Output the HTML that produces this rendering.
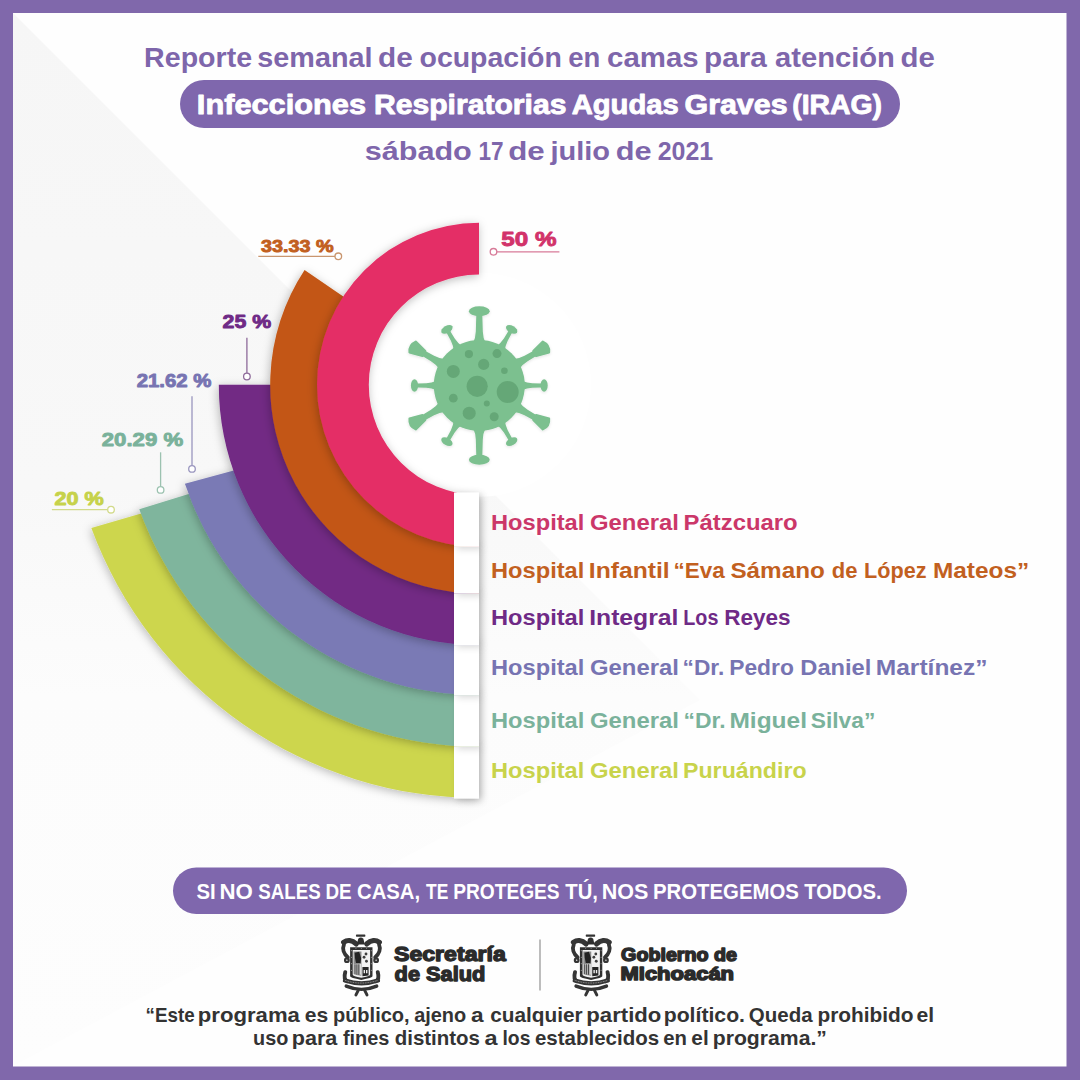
<!DOCTYPE html>
<html><head><meta charset="utf-8"><style>
html,body{margin:0;padding:0;width:1080px;height:1080px;overflow:hidden;background:#8068AB;}
svg{display:block;font-family:"Liberation Sans",sans-serif;}
</style></head><body>
<svg width="1080" height="1080" viewBox="0 0 1080 1080">
<defs>
<filter id="sh" x="-20%" y="-20%" width="140%" height="140%">
  <feGaussianBlur in="SourceAlpha" stdDeviation="5"/>
  <feOffset dx="-1" dy="1.5" result="b"/>
  <feFlood flood-color="#000" flood-opacity="0.27"/>
  <feComposite in2="b" operator="in"/>
  <feMerge><feMergeNode/><feMergeNode in="SourceGraphic"/></feMerge>
</filter>
<filter id="tsh" x="-80%" y="-50%" width="260%" height="200%">
  <feGaussianBlur in="SourceAlpha" stdDeviation="3.5"/>
  <feOffset dx="2.5" dy="2" result="b"/>
  <feFlood flood-color="#000" flood-opacity="0.16"/>
  <feComposite in2="b" operator="in"/>
  <feMerge><feMergeNode/><feMergeNode in="SourceGraphic"/></feMerge>
</filter>
<filter id="vsh" x="-20%" y="-20%" width="140%" height="140%">
  <feGaussianBlur in="SourceAlpha" stdDeviation="1.5"/>
  <feOffset dx="0" dy="1" result="b"/>
  <feFlood flood-color="#000" flood-opacity="0.12"/>
  <feComposite in2="b" operator="in"/>
  <feMerge><feMergeNode/><feMergeNode in="SourceGraphic"/></feMerge>
</filter>
<linearGradient id="bg" x1="0" y1="0" x2="1" y2="1">
  <stop offset="0" stop-color="#FFFFFF"/><stop offset="1" stop-color="#FDFDFD"/>
</linearGradient>
</defs>
<rect x="0" y="0" width="1080" height="1080" fill="#8068AB"/>
<rect x="13" y="13" width="1053.5" height="1053.5" fill="#FEFEFE"/>
<linearGradient id="tri" gradientUnits="userSpaceOnUse" x1="0" y1="13" x2="0" y2="1066"><stop offset="0" stop-color="#F6F6F6"/><stop offset="0.45" stop-color="#F8F8F8"/><stop offset="0.65" stop-color="#FCFCFC"/><stop offset="1" stop-color="#FDFDFD"/></linearGradient>
<path d="M13,13 L700,700 L13,1066 Z" fill="url(#tri)"/>
<rect x="180" y="80" width="720" height="48" rx="24" fill="#7F67AD"/>
<rect x="173" y="867.5" width="734" height="46.5" rx="23.25" fill="#7F67AD"/>
<circle cx="479.0" cy="384.8" r="112" fill="#FFFFFF"/>
<path d="M479.00,798.10 A413.3,413.3 0 0 1 91.34,528.12 L144.53,512.44 A358,358 0 0 0 479.00,742.80 Z" fill="#CDD64E" filter="url(#sh)"/>
<path d="M479.00,746.60 A361.8,361.8 0 0 1 139.25,509.17 L192.66,492.72 A306,306 0 0 0 479.00,690.80 Z" fill="#7FB59D" filter="url(#sh)"/>
<path d="M479.00,695.10 A310.3,310.3 0 0 1 184.90,483.74 L238.38,469.22 A255,255 0 0 0 479.00,639.80 Z" fill="#7A7AB5" filter="url(#sh)"/>
<path d="M479.00,645.00 A260.2,260.2 0 0 1 218.80,384.80 L274.00,384.80 A205,205 0 0 0 479.00,589.80 Z" fill="#722984" filter="url(#sh)"/>
<path d="M479.00,593.60 A208.8,208.8 0 0 1 304.57,270.03 L346.56,298.63 A158,158 0 0 0 479.00,542.80 Z" fill="#C35715" filter="url(#sh)"/>
<path d="M479.00,546.80 A162.0,162.0 0 0 1 479.00,222.80 L479.00,274.60 A110.2,110.2 0 0 0 479.00,495.00 Z" fill="#E42F66" filter="url(#sh)"/>
<rect x="454" y="746.7" width="25" height="51.9" fill="#fff" filter="url(#tsh)"/>
<rect x="454" y="695.2" width="25" height="51.5" fill="#fff" filter="url(#tsh)"/>
<rect x="454" y="645.1" width="25" height="50.1" fill="#fff" filter="url(#tsh)"/>
<rect x="454" y="593.7" width="25" height="51.4" fill="#fff" filter="url(#tsh)"/>
<rect x="454" y="546.9" width="25" height="46.8" fill="#fff" filter="url(#tsh)"/>
<rect x="454" y="492.5" width="25" height="54.4" fill="#fff" filter="url(#tsh)"/>
<g fill="#7CC08F" filter="url(#vsh)">
<circle cx="479.3" cy="385.5" r="45.5"/>
<g transform="translate(479.3,385.5) rotate(0)"><path d="M-6.5,-42 Q-3.6,-48 -3.5,-54 L-3.0,-71 L3.0,-71 L3.5,-54 Q3.6,-48 6.5,-42 Z"/><ellipse cx="0" cy="-74.3" rx="10.4" ry="5"/></g>
<g transform="translate(479.3,385.5) rotate(30)"><path d="M-5,-42 Q-2.4,-48 -2.2,-53 L-2,-62 L2,-62 L2.2,-53 Q2.4,-48 5,-42 Z"/><ellipse cx="0" cy="-64.8" rx="6.2" ry="3.6"/></g>
<g transform="translate(479.3,385.5) rotate(60)"><path d="M-6,-42 Q-3.2,-48 -3.1,-54 L-2.8,-66 L2.8,-66 L3.1,-54 Q3.2,-48 6,-42 Z"/><path d="M-2.8,-64 L-6.2,-77 Q0,-81.5 6.2,-77 L2.8,-64 Z" stroke="#7CC08F" stroke-width="2.2" stroke-linejoin="round"/></g>
<g transform="translate(479.3,385.5) rotate(90)"><path d="M-5,-42 Q-2.4,-48 -2.2,-53 L-2,-62 L2,-62 L2.2,-53 Q2.4,-48 5,-42 Z"/><ellipse cx="0" cy="-64.8" rx="6.2" ry="3.6"/></g>
<g transform="translate(479.3,385.5) rotate(120)"><path d="M-6,-42 Q-3.2,-48 -3.1,-54 L-2.8,-66 L2.8,-66 L3.1,-54 Q3.2,-48 6,-42 Z"/><path d="M-2.8,-64 L-6.2,-77 Q0,-81.5 6.2,-77 L2.8,-64 Z" stroke="#7CC08F" stroke-width="2.2" stroke-linejoin="round"/></g>
<g transform="translate(479.3,385.5) rotate(150)"><path d="M-5,-42 Q-2.4,-48 -2.2,-53 L-2,-62 L2,-62 L2.2,-53 Q2.4,-48 5,-42 Z"/><ellipse cx="0" cy="-64.8" rx="6.2" ry="3.6"/></g>
<g transform="translate(479.3,385.5) rotate(180)"><path d="M-6.5,-42 Q-3.6,-48 -3.5,-54 L-3.0,-71 L3.0,-71 L3.5,-54 Q3.6,-48 6.5,-42 Z"/><ellipse cx="0" cy="-74.3" rx="10.4" ry="5"/></g>
<g transform="translate(479.3,385.5) rotate(210)"><path d="M-5,-42 Q-2.4,-48 -2.2,-53 L-2,-62 L2,-62 L2.2,-53 Q2.4,-48 5,-42 Z"/><ellipse cx="0" cy="-64.8" rx="6.2" ry="3.6"/></g>
<g transform="translate(479.3,385.5) rotate(240)"><path d="M-6,-42 Q-3.2,-48 -3.1,-54 L-2.8,-66 L2.8,-66 L3.1,-54 Q3.2,-48 6,-42 Z"/><path d="M-2.8,-64 L-6.2,-77 Q0,-81.5 6.2,-77 L2.8,-64 Z" stroke="#7CC08F" stroke-width="2.2" stroke-linejoin="round"/></g>
<g transform="translate(479.3,385.5) rotate(270)"><path d="M-5,-42 Q-2.4,-48 -2.2,-53 L-2,-62 L2,-62 L2.2,-53 Q2.4,-48 5,-42 Z"/><ellipse cx="0" cy="-64.8" rx="6.2" ry="3.6"/></g>
<g transform="translate(479.3,385.5) rotate(300)"><path d="M-6,-42 Q-3.2,-48 -3.1,-54 L-2.8,-66 L2.8,-66 L3.1,-54 Q3.2,-48 6,-42 Z"/><path d="M-2.8,-64 L-6.2,-77 Q0,-81.5 6.2,-77 L2.8,-64 Z" stroke="#7CC08F" stroke-width="2.2" stroke-linejoin="round"/></g>
<g transform="translate(479.3,385.5) rotate(330)"><path d="M-5,-42 Q-2.4,-48 -2.2,-53 L-2,-62 L2,-62 L2.2,-53 Q2.4,-48 5,-42 Z"/><ellipse cx="0" cy="-64.8" rx="6.2" ry="3.6"/></g>
<circle cx="477.2" cy="386.3" r="10.6" fill="#65A777"/>
<circle cx="507.7" cy="392" r="11" fill="#65A777"/>
<circle cx="453.3" cy="371.4" r="6.5" fill="#65A777"/>
<circle cx="483.7" cy="364.4" r="5.6" fill="#65A777"/>
<circle cx="468.9" cy="354.1" r="4.1" fill="#65A777"/>
<circle cx="497" cy="353.6" r="4.5" fill="#65A777"/>
<circle cx="504.4" cy="370.8" r="3.3" fill="#65A777"/>
<circle cx="453.3" cy="398.2" r="4.4" fill="#65A777"/>
<circle cx="486.8" cy="403.5" r="3" fill="#65A777"/>
<circle cx="469.2" cy="413.2" r="6.5" fill="#65A777"/>
<circle cx="494.2" cy="416.7" r="4.5" fill="#65A777"/>
</g>

<g fill="none" stroke-width="1.3">
 <line x1="496.8" y1="251.8" x2="559.4" y2="251.8" stroke="#D77A98"/><circle cx="493.5" cy="251.8" r="3.3" stroke="#D77A98" fill="#fff"/>
 <line x1="258.3" y1="256.3" x2="335" y2="256.3" stroke="#C9966F"/><circle cx="338.3" cy="256.3" r="3.3" stroke="#C9966F" fill="#fff"/>
 <line x1="246.9" y1="337.7" x2="246.9" y2="373.2" stroke="#8E6A9A"/><circle cx="246.9" cy="376.5" r="3.3" stroke="#8E6A9A" fill="#fff"/>
 <line x1="192" y1="396.3" x2="192" y2="465.6" stroke="#9995BE"/><circle cx="192" cy="468.9" r="3.3" stroke="#9995BE" fill="#fff"/>
 <line x1="160.6" y1="452.3" x2="160.6" y2="486.6" stroke="#9CC2B0"/><circle cx="160.6" cy="489.9" r="3.3" stroke="#9CC2B0" fill="#fff"/>
 <line x1="51.9" y1="509.7" x2="107.7" y2="509.7" stroke="#D2DA8A"/><circle cx="111" cy="509.7" r="3.3" stroke="#D2DA8A" fill="#fff"/>
</g>
<text x="144.12" y="67" font-size="27.2" fill="#7E66AB" font-weight="bold" textLength="107.95" lengthAdjust="spacingAndGlyphs" id="t1_0">Reporte</text>
<text x="257.37" y="67" font-size="27.2" fill="#7E66AB" font-weight="bold" textLength="115.18" lengthAdjust="spacingAndGlyphs" id="t1_1">semanal</text>
<text x="378.09" y="67" font-size="27.2" fill="#7E66AB" font-weight="bold" textLength="34.78" lengthAdjust="spacingAndGlyphs" id="t1_2">de</text>
<text x="419.51" y="67" font-size="27.2" fill="#7E66AB" font-weight="bold" textLength="142.3" lengthAdjust="spacingAndGlyphs" id="t1_3">ocupación</text>
<text x="568.27" y="67" font-size="27.2" fill="#7E66AB" font-weight="bold" textLength="32.05" lengthAdjust="spacingAndGlyphs" id="t1_4">en</text>
<text x="607.14" y="67" font-size="27.2" fill="#7E66AB" font-weight="bold" textLength="91.56" lengthAdjust="spacingAndGlyphs" id="t1_5">camas</text>
<text x="704.05" y="67" font-size="27.2" fill="#7E66AB" font-weight="bold" textLength="62.87" lengthAdjust="spacingAndGlyphs" id="t1_6">para</text>
<text x="774.97" y="67" font-size="27.2" fill="#7E66AB" font-weight="bold" textLength="119.94" lengthAdjust="spacingAndGlyphs" id="t1_7">atención</text>
<text x="900.5" y="67" font-size="27.2" fill="#7E66AB" font-weight="bold" textLength="34.29" lengthAdjust="spacingAndGlyphs" id="t1_8">de</text>
<text x="196.85" y="113.6" font-size="28.2" fill="#fff" font-weight="bold" textLength="169.19" lengthAdjust="spacingAndGlyphs" id="t2_0" stroke="#fff" stroke-width="0.9" stroke-linejoin="round">Infecciones</text>
<text x="373.99" y="113.6" font-size="28.2" fill="#fff" font-weight="bold" textLength="192.42" lengthAdjust="spacingAndGlyphs" id="t2_1" stroke="#fff" stroke-width="0.9" stroke-linejoin="round">Respiratorias</text>
<text x="571.65" y="113.6" font-size="28.2" fill="#fff" font-weight="bold" textLength="107.16" lengthAdjust="spacingAndGlyphs" id="t2_2" stroke="#fff" stroke-width="0.9" stroke-linejoin="round">Agudas</text>
<text x="684.52" y="113.6" font-size="28.2" fill="#fff" font-weight="bold" textLength="103.01" lengthAdjust="spacingAndGlyphs" id="t2_3" stroke="#fff" stroke-width="0.9" stroke-linejoin="round">Graves</text>
<text x="792.21" y="113.6" font-size="28.2" fill="#fff" font-weight="bold" textLength="89.83" lengthAdjust="spacingAndGlyphs" id="t2_4" stroke="#fff" stroke-width="0.9" stroke-linejoin="round">(IRAG)</text>
<text x="364.65" y="160" font-size="26.5" fill="#7E66AB" font-weight="bold" textLength="107.17" lengthAdjust="spacingAndGlyphs" id="t3_0">sábado</text>
<text x="478.39" y="160" font-size="26.5" fill="#7E66AB" font-weight="bold" textLength="25.06" lengthAdjust="spacingAndGlyphs" id="t3_1">17</text>
<text x="508.25" y="160" font-size="26.5" fill="#7E66AB" font-weight="bold" textLength="36.51" lengthAdjust="spacingAndGlyphs" id="t3_2">de</text>
<text x="550.43" y="160" font-size="26.5" fill="#7E66AB" font-weight="bold" textLength="59.62" lengthAdjust="spacingAndGlyphs" id="t3_3">julio</text>
<text x="615.85" y="160" font-size="26.5" fill="#7E66AB" font-weight="bold" textLength="35.82" lengthAdjust="spacingAndGlyphs" id="t3_4">de</text>
<text x="657.69" y="160" font-size="26.5" fill="#7E66AB" font-weight="bold" textLength="55.48" lengthAdjust="spacingAndGlyphs" id="t3_5">2021</text>
<text x="491.02" y="529.8" font-size="22.4" fill="#CB3769" font-weight="bold" textLength="93.28" lengthAdjust="spacingAndGlyphs" id="L1_0">Hospital</text>
<text x="589.96" y="529.8" font-size="22.4" fill="#CB3769" font-weight="bold" textLength="88.9" lengthAdjust="spacingAndGlyphs" id="L1_1">General</text>
<text x="683.55" y="529.8" font-size="22.4" fill="#CB3769" font-weight="bold" textLength="114.15" lengthAdjust="spacingAndGlyphs" id="L1_2">Pátzcuaro</text>
<text x="491.02" y="578.3" font-size="22.4" fill="#C2601F" font-weight="bold" textLength="93.28" lengthAdjust="spacingAndGlyphs" id="L2_0">Hospital</text>
<text x="588.77" y="578.3" font-size="22.4" fill="#C2601F" font-weight="bold" textLength="80.97" lengthAdjust="spacingAndGlyphs" id="L2_1">Infantil</text>
<text x="673.55" y="578.3" font-size="22.4" fill="#C2601F" font-weight="bold" textLength="51.25" lengthAdjust="spacingAndGlyphs" id="L2_2">“Eva</text>
<text x="730.45" y="578.3" font-size="22.4" fill="#C2601F" font-weight="bold" textLength="94.36" lengthAdjust="spacingAndGlyphs" id="L2_3">Sámano</text>
<text x="831.78" y="578.3" font-size="22.4" fill="#C2601F" font-weight="bold" textLength="25.7" lengthAdjust="spacingAndGlyphs" id="L2_4">de</text>
<text x="864.09" y="578.3" font-size="22.4" fill="#C2601F" font-weight="bold" textLength="62.47" lengthAdjust="spacingAndGlyphs" id="L2_5">López</text>
<text x="932.98" y="578.3" font-size="22.4" fill="#C2601F" font-weight="bold" textLength="96.27" lengthAdjust="spacingAndGlyphs" id="L2_6">Mateos”</text>
<text x="491.02" y="624.6" font-size="22.4" fill="#6F2A86" font-weight="bold" textLength="93.28" lengthAdjust="spacingAndGlyphs" id="L3_0">Hospital</text>
<text x="589.16" y="624.6" font-size="22.4" fill="#6F2A86" font-weight="bold" textLength="89.31" lengthAdjust="spacingAndGlyphs" id="L3_1">Integral</text>
<text x="683.3" y="624.6" font-size="22.4" fill="#6F2A86" font-weight="bold" textLength="35.1" lengthAdjust="spacingAndGlyphs" id="L3_2">Los</text>
<text x="724.28" y="624.6" font-size="22.4" fill="#6F2A86" font-weight="bold" textLength="66.35" lengthAdjust="spacingAndGlyphs" id="L3_3">Reyes</text>
<text x="491.02" y="675.0" font-size="22.4" fill="#7774B2" font-weight="bold" textLength="93.28" lengthAdjust="spacingAndGlyphs" id="L4_0">Hospital</text>
<text x="589.96" y="675.0" font-size="22.4" fill="#7774B2" font-weight="bold" textLength="88.9" lengthAdjust="spacingAndGlyphs" id="L4_1">General</text>
<text x="682.6" y="675.0" font-size="22.4" fill="#7774B2" font-weight="bold" textLength="41.67" lengthAdjust="spacingAndGlyphs" id="L4_2">“Dr.</text>
<text x="729.2" y="675.0" font-size="22.4" fill="#7774B2" font-weight="bold" textLength="64.68" lengthAdjust="spacingAndGlyphs" id="L4_3">Pedro</text>
<text x="800.33" y="675.0" font-size="22.4" fill="#7774B2" font-weight="bold" textLength="71.02" lengthAdjust="spacingAndGlyphs" id="L4_4">Daniel</text>
<text x="875.81" y="675.0" font-size="22.4" fill="#7774B2" font-weight="bold" textLength="111.72" lengthAdjust="spacingAndGlyphs" id="L4_5">Martínez”</text>
<text x="491.02" y="728.2" font-size="22.4" fill="#7AB29B" font-weight="bold" textLength="93.28" lengthAdjust="spacingAndGlyphs" id="L5_0">Hospital</text>
<text x="589.96" y="728.2" font-size="22.4" fill="#7AB29B" font-weight="bold" textLength="88.9" lengthAdjust="spacingAndGlyphs" id="L5_1">General</text>
<text x="683.56" y="728.2" font-size="22.4" fill="#7AB29B" font-weight="bold" textLength="41.96" lengthAdjust="spacingAndGlyphs" id="L5_2">“Dr.</text>
<text x="729.47" y="728.2" font-size="22.4" fill="#7AB29B" font-weight="bold" textLength="77.54" lengthAdjust="spacingAndGlyphs" id="L5_3">Miguel</text>
<text x="810.78" y="728.2" font-size="22.4" fill="#7AB29B" font-weight="bold" textLength="64.51" lengthAdjust="spacingAndGlyphs" id="L5_4">Silva”</text>
<text x="491.02" y="778.2" font-size="22.4" fill="#C8D34B" font-weight="bold" textLength="93.28" lengthAdjust="spacingAndGlyphs" id="L6_0">Hospital</text>
<text x="589.96" y="778.2" font-size="22.4" fill="#C8D34B" font-weight="bold" textLength="88.9" lengthAdjust="spacingAndGlyphs" id="L6_1">General</text>
<text x="683.01" y="778.2" font-size="22.4" fill="#C8D34B" font-weight="bold" textLength="123.65" lengthAdjust="spacingAndGlyphs" id="L6_2">Puruándiro</text>
<text x="501.36" y="246.49" font-size="20.904324660645486" fill="#D2336A" font-weight="bold" textLength="55.11" lengthAdjust="spacingAndGlyphs" id="p1" stroke="#D2336A" stroke-width="0.9" stroke-linejoin="round">50 %</text>
<text x="261.1" y="251.73" font-size="17.201467423389182" fill="#C2601F" font-weight="bold" textLength="72.63" lengthAdjust="spacingAndGlyphs" id="p2" stroke="#C2601F" stroke-width="0.9" stroke-linejoin="round">33.33 %</text>
<text x="222.56" y="328.49" font-size="19.281472712726703" fill="#6F2A86" font-weight="bold" textLength="48.61" lengthAdjust="spacingAndGlyphs" id="p3" stroke="#6F2A86" stroke-width="0.9" stroke-linejoin="round">25 %</text>
<text x="136.66" y="386.57" font-size="18.433269294263415" fill="#7774B2" font-weight="bold" textLength="74.81" lengthAdjust="spacingAndGlyphs" id="p4" stroke="#7774B2" stroke-width="0.9" stroke-linejoin="round">21.62 %</text>
<text x="101.8" y="446.22" font-size="18.81834328630813" fill="#7AB29B" font-weight="bold" textLength="81.29" lengthAdjust="spacingAndGlyphs" id="p5" stroke="#7AB29B" stroke-width="0.9" stroke-linejoin="round">20.29 %</text>
<text x="54.56" y="504.5" font-size="18.46206861018083" fill="#C6D24A" font-weight="bold" textLength="49.2" lengthAdjust="spacingAndGlyphs" id="p6" stroke="#C6D24A" stroke-width="0.9" stroke-linejoin="round">20 %</text>
<text x="196.39" y="898.8" font-size="21.4" fill="#fff" font-weight="bold" textLength="19.16" lengthAdjust="spacingAndGlyphs" id="s1_0">SI</text>
<text x="219.53" y="898.8" font-size="21.4" fill="#fff" font-weight="bold" textLength="33.39" lengthAdjust="spacingAndGlyphs" id="s1_1">NO</text>
<text x="258.37" y="898.8" font-size="21.4" fill="#fff" font-weight="bold" textLength="62.34" lengthAdjust="spacingAndGlyphs" id="s1_2">SALES</text>
<text x="325.39" y="898.8" font-size="21.4" fill="#fff" font-weight="bold" textLength="26.19" lengthAdjust="spacingAndGlyphs" id="s1_3">DE</text>
<text x="357.05" y="898.8" font-size="21.4" fill="#fff" font-weight="bold" textLength="63.02" lengthAdjust="spacingAndGlyphs" id="s1_4">CASA,</text>
<text x="426.06" y="898.8" font-size="21.4" fill="#fff" font-weight="bold" textLength="22.25" lengthAdjust="spacingAndGlyphs" id="s1_5">TE</text>
<text x="453.17" y="898.8" font-size="21.4" fill="#fff" font-weight="bold" textLength="106.51" lengthAdjust="spacingAndGlyphs" id="s1_6">PROTEGES</text>
<text x="565.33" y="898.8" font-size="21.4" fill="#fff" font-weight="bold" textLength="32.61" lengthAdjust="spacingAndGlyphs" id="s1_7">TÚ,</text>
<text x="601.8" y="898.8" font-size="21.4" fill="#fff" font-weight="bold" textLength="46.64" lengthAdjust="spacingAndGlyphs" id="s1_8">NOS</text>
<text x="652.98" y="898.8" font-size="21.4" fill="#fff" font-weight="bold" textLength="145.95" lengthAdjust="spacingAndGlyphs" id="s1_9">PROTEGEMOS</text>
<text x="804.33" y="898.8" font-size="21.4" fill="#fff" font-weight="bold" textLength="77.21" lengthAdjust="spacingAndGlyphs" id="s1_10">TODOS.</text>
<text x="393.96" y="960.7" font-size="20" fill="#2B2B2B" font-weight="900" textLength="111.87" lengthAdjust="spacingAndGlyphs" id="g1" stroke="#2B2B2B" stroke-width="1.3" stroke-linejoin="round">Secretaría</text>
<text x="394.62" y="980.7" font-size="20" fill="#2B2B2B" font-weight="900" textLength="90.68" lengthAdjust="spacingAndGlyphs" id="g2" stroke="#2B2B2B" stroke-width="1.3" stroke-linejoin="round">de Salud</text>
<text x="621.13" y="961.4" font-size="17.6" fill="#2B2B2B" font-weight="900" textLength="115.86" lengthAdjust="spacingAndGlyphs" id="g3" stroke="#2B2B2B" stroke-width="1.4" stroke-linejoin="round">Gobierno de</text>
<text x="620.51" y="980.2" font-size="17.6" fill="#2B2B2B" font-weight="900" textLength="113.56" lengthAdjust="spacingAndGlyphs" id="g4" stroke="#2B2B2B" stroke-width="1.4" stroke-linejoin="round">Michoacán</text>
<text x="145.62" y="1022.4" font-size="19.3" fill="#333" font-weight="bold" textLength="49.02" lengthAdjust="spacingAndGlyphs" id="d1_0">“Este</text>
<text x="197.85" y="1022.4" font-size="19.3" fill="#333" font-weight="bold" textLength="102.08" lengthAdjust="spacingAndGlyphs" id="d1_1">programa</text>
<text x="304.68" y="1022.4" font-size="19.3" fill="#333" font-weight="bold" textLength="23.45" lengthAdjust="spacingAndGlyphs" id="d1_2">es</text>
<text x="332.92" y="1022.4" font-size="19.3" fill="#333" font-weight="bold" textLength="76.75" lengthAdjust="spacingAndGlyphs" id="d1_3">público,</text>
<text x="414.15" y="1022.4" font-size="19.3" fill="#333" font-weight="bold" textLength="52.02" lengthAdjust="spacingAndGlyphs" id="d1_4">ajeno</text>
<text x="471.1" y="1022.4" font-size="19.3" fill="#333" font-weight="bold" textLength="12.59" lengthAdjust="spacingAndGlyphs" id="d1_5">a</text>
<text x="490.21" y="1022.4" font-size="19.3" fill="#333" font-weight="bold" textLength="92.43" lengthAdjust="spacingAndGlyphs" id="d1_6">cualquier</text>
<text x="586.35" y="1022.4" font-size="19.3" fill="#333" font-weight="bold" textLength="75.04" lengthAdjust="spacingAndGlyphs" id="d1_7">partido</text>
<text x="663.73" y="1022.4" font-size="19.3" fill="#333" font-weight="bold" textLength="81.27" lengthAdjust="spacingAndGlyphs" id="d1_8">político.</text>
<text x="748.83" y="1022.4" font-size="19.3" fill="#333" font-weight="bold" textLength="63.78" lengthAdjust="spacingAndGlyphs" id="d1_9">Queda</text>
<text x="817.4" y="1022.4" font-size="19.3" fill="#333" font-weight="bold" textLength="96.2" lengthAdjust="spacingAndGlyphs" id="d1_10">prohibido</text>
<text x="916.41" y="1022.4" font-size="19.3" fill="#333" font-weight="bold" textLength="17.65" lengthAdjust="spacingAndGlyphs" id="d1_11">el</text>
<text x="253.09" y="1045.1" font-size="19.3" fill="#333" font-weight="bold" textLength="35.22" lengthAdjust="spacingAndGlyphs" id="d2_0">uso</text>
<text x="291.72" y="1045.1" font-size="19.3" fill="#333" font-weight="bold" textLength="45.64" lengthAdjust="spacingAndGlyphs" id="d2_1">para</text>
<text x="342.93" y="1045.1" font-size="19.3" fill="#333" font-weight="bold" textLength="46.48" lengthAdjust="spacingAndGlyphs" id="d2_2">fines</text>
<text x="394.72" y="1045.1" font-size="19.3" fill="#333" font-weight="bold" textLength="85.24" lengthAdjust="spacingAndGlyphs" id="d2_3">distintos</text>
<text x="484.64" y="1045.1" font-size="19.3" fill="#333" font-weight="bold" textLength="13.07" lengthAdjust="spacingAndGlyphs" id="d2_4">a</text>
<text x="502.51" y="1045.1" font-size="19.3" fill="#333" font-weight="bold" textLength="27.9" lengthAdjust="spacingAndGlyphs" id="d2_5">los</text>
<text x="534.97" y="1045.1" font-size="19.3" fill="#333" font-weight="bold" textLength="124.17" lengthAdjust="spacingAndGlyphs" id="d2_6">establecidos</text>
<text x="663.33" y="1045.1" font-size="19.3" fill="#333" font-weight="bold" textLength="23.72" lengthAdjust="spacingAndGlyphs" id="d2_7">en</text>
<text x="691.37" y="1045.1" font-size="19.3" fill="#333" font-weight="bold" textLength="17.34" lengthAdjust="spacingAndGlyphs" id="d2_8">el</text>
<text x="712.79" y="1045.1" font-size="19.3" fill="#333" font-weight="bold" textLength="114.09" lengthAdjust="spacingAndGlyphs" id="d2_9">programa.”</text>
<g transform="translate(336.5,930) scale(0.06485)">
  <g fill="none" stroke="#353535" stroke-linecap="round">
    <path d="M110,190 C165,150 240,150 305,215" stroke-width="80"/>
    <path d="M661,190 C606,150 531,150 466,215" stroke-width="80"/>
    <path d="M115,225 C85,290 110,370 175,420" stroke-width="58"/>
    <path d="M656,225 C686,290 661,370 596,420" stroke-width="58"/>
    <circle cx="160" cy="465" r="28" stroke-width="34"/>
    <circle cx="611" cy="465" r="28" stroke-width="34"/>
    <path d="M135,650 C115,720 125,770 165,790" stroke-width="60"/>
    <path d="M636,650 C656,720 646,770 606,790" stroke-width="60"/>
    <path d="M130,780 Q385,865 640,780" stroke-width="66"/>
    <path d="M150,865 Q385,965 620,865" stroke-width="52"/>
    <path d="M335,930 L300,1000 M435,930 L470,1000" stroke-width="46"/>
  </g>
  <path d="M130,776 Q385,861 640,776" fill="none" stroke="#DADADA" stroke-width="10" stroke-dasharray="14 12"/>
  <rect x="300" y="70" width="145" height="34" rx="10" fill="#333"/>
  <path d="M315,225 L335,135 Q375,95 415,135 L435,225 Z" fill="#2f2f2f"/>
  <path d="M210,265 L555,265 L555,715 Q555,740 382,770 Q210,740 210,715 Z" fill="#303030"/>
  <path d="M250,310 L518,310 L518,690 Q518,712 382,735 Q250,712 250,690 Z" fill="#F2F2F2"/>
  <path d="M262,330 L385,330 L385,705 Q262,690 262,680 Z" fill="#8a8a8a"/>
  <path d="M280,350 L350,335 L380,430 L372,510 L300,510 L285,430 Z" fill="#222"/>
  <path d="M265,525 L380,525 L380,690 L265,680 Z" fill="#DCDCDC"/>
  <path d="M285,530 L285,680 M315,530 L315,685 M345,530 L345,690" stroke="#2e2e2e" stroke-width="16"/>
  <circle cx="455" cy="370" r="22" fill="#3e3e3e"/>
  <circle cx="425" cy="420" r="22" fill="#3e3e3e"/>
  <circle cx="462" cy="482" r="22" fill="#3e3e3e"/>
  <path d="M400,570 L495,570 L495,700 L400,712 Z" fill="#262626"/>
  <path d="M418,615 L440,615 L440,665 L418,665 Z M455,615 L477,615 L477,665 L455,665 Z" fill="#EEE"/>
  <g fill="#EEE"><circle cx="230" cy="320" r="7"/><circle cx="230" cy="420" r="7"/><circle cx="230" cy="520" r="7"/><circle cx="230" cy="620" r="7"/><circle cx="536" cy="320" r="7"/><circle cx="536" cy="420" r="7"/><circle cx="536" cy="520" r="7"/><circle cx="536" cy="620" r="7"/><circle cx="300" cy="287" r="7"/><circle cx="382" cy="287" r="7"/><circle cx="465" cy="287" r="7"/></g>
</g>
<g transform="translate(566.3,930) scale(0.06485)">
  <g fill="none" stroke="#353535" stroke-linecap="round">
    <path d="M110,190 C165,150 240,150 305,215" stroke-width="80"/>
    <path d="M661,190 C606,150 531,150 466,215" stroke-width="80"/>
    <path d="M115,225 C85,290 110,370 175,420" stroke-width="58"/>
    <path d="M656,225 C686,290 661,370 596,420" stroke-width="58"/>
    <circle cx="160" cy="465" r="28" stroke-width="34"/>
    <circle cx="611" cy="465" r="28" stroke-width="34"/>
    <path d="M135,650 C115,720 125,770 165,790" stroke-width="60"/>
    <path d="M636,650 C656,720 646,770 606,790" stroke-width="60"/>
    <path d="M130,780 Q385,865 640,780" stroke-width="66"/>
    <path d="M150,865 Q385,965 620,865" stroke-width="52"/>
    <path d="M335,930 L300,1000 M435,930 L470,1000" stroke-width="46"/>
  </g>
  <path d="M130,776 Q385,861 640,776" fill="none" stroke="#DADADA" stroke-width="10" stroke-dasharray="14 12"/>
  <rect x="300" y="70" width="145" height="34" rx="10" fill="#333"/>
  <path d="M315,225 L335,135 Q375,95 415,135 L435,225 Z" fill="#2f2f2f"/>
  <path d="M210,265 L555,265 L555,715 Q555,740 382,770 Q210,740 210,715 Z" fill="#303030"/>
  <path d="M250,310 L518,310 L518,690 Q518,712 382,735 Q250,712 250,690 Z" fill="#F2F2F2"/>
  <path d="M262,330 L385,330 L385,705 Q262,690 262,680 Z" fill="#8a8a8a"/>
  <path d="M280,350 L350,335 L380,430 L372,510 L300,510 L285,430 Z" fill="#222"/>
  <path d="M265,525 L380,525 L380,690 L265,680 Z" fill="#DCDCDC"/>
  <path d="M285,530 L285,680 M315,530 L315,685 M345,530 L345,690" stroke="#2e2e2e" stroke-width="16"/>
  <circle cx="455" cy="370" r="22" fill="#3e3e3e"/>
  <circle cx="425" cy="420" r="22" fill="#3e3e3e"/>
  <circle cx="462" cy="482" r="22" fill="#3e3e3e"/>
  <path d="M400,570 L495,570 L495,700 L400,712 Z" fill="#262626"/>
  <path d="M418,615 L440,615 L440,665 L418,665 Z M455,615 L477,615 L477,665 L455,665 Z" fill="#EEE"/>
  <g fill="#EEE"><circle cx="230" cy="320" r="7"/><circle cx="230" cy="420" r="7"/><circle cx="230" cy="520" r="7"/><circle cx="230" cy="620" r="7"/><circle cx="536" cy="320" r="7"/><circle cx="536" cy="420" r="7"/><circle cx="536" cy="520" r="7"/><circle cx="536" cy="620" r="7"/><circle cx="300" cy="287" r="7"/><circle cx="382" cy="287" r="7"/><circle cx="465" cy="287" r="7"/></g>
</g>
<line x1="540" y1="939.4" x2="540" y2="990.6" stroke="#999" stroke-width="1.3"/>
</svg>
</body></html>
